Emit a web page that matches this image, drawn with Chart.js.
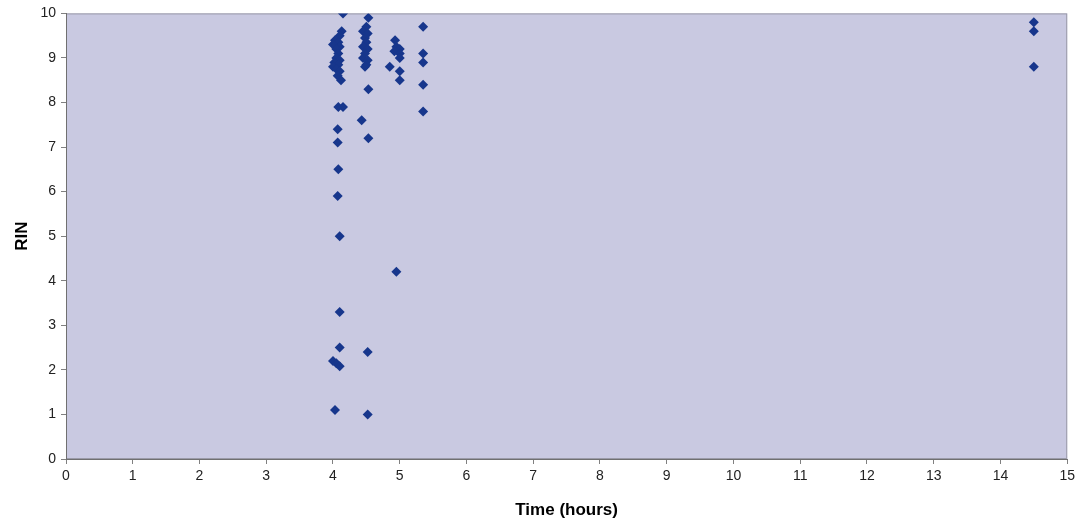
<!DOCTYPE html>
<html>
<head>
<meta charset="utf-8">
<script src="https://cdn.jsdelivr.net/npm/chart.js@4.4.1/dist/chart.umd.min.js"></script>
<style>
  html, body { margin: 0; padding: 0; background: #ffffff; }
  #wrap { width: 1079px; height: 526px; }
</style>
</head>
<body>
<div id="wrap"><canvas id="rinChart" width="1079" height="526"></canvas></div>
<script>
// RIN vs time samples
const timeHours = [
    4.15, 4.13, 4.10, 4.03, 4.08, 4.00, 4.10, 4.05, 4.08, 4.05, 4.10, 4.02, 4.08, 4.00, 4.05, 4.10, 4.07, 4.12,
    4.08, 4.15, 4.07, 4.07, 4.08, 4.07, 4.10, 4.10, 4.10, 4.00, 4.05, 4.10, 4.03,
    4.53, 4.50, 4.45, 4.52, 4.48, 4.50, 4.45, 4.52, 4.48, 4.45, 4.52, 4.50, 4.48, 4.53, 4.43, 4.53, 4.52, 4.52,
    4.93, 4.95, 5.00, 4.92, 5.00, 5.00, 4.85, 5.00, 5.00, 4.95,
    5.35, 5.35, 5.35, 5.35, 5.35,
    14.5, 14.5, 14.5
];
const rinValues = [
    10.0, 9.6, 9.5, 9.4, 9.35, 9.3, 9.25, 9.2, 9.1, 9.0, 8.95, 8.9, 8.85, 8.8, 8.75, 8.7, 8.6, 8.5,
    7.9, 7.9, 7.4, 7.1, 6.5, 5.9, 5.0, 3.3, 2.5, 2.2, 2.15, 2.08, 1.1,
    9.9, 9.7, 9.6, 9.55, 9.45, 9.35, 9.25, 9.2, 9.1, 9.0, 8.95, 8.85, 8.8, 8.3, 7.6, 7.2, 2.4, 1.0,
    9.4, 9.25, 9.2, 9.15, 9.1, 9.0, 8.8, 8.7, 8.5, 4.2,
    9.7, 9.1, 8.9, 8.4, 7.8,
    9.8, 9.6, 8.8
];
const xTicks = [0, 1, 2, 3, 4, 5, 6, 7, 8, 9, 10, 11, 12, 13, 14, 15];
const yTicks = [0, 1, 2, 3, 4, 5, 6, 7, 8, 9, 10];

const points = timeHours.map((t, i) => ({ x: t, y: rinValues[i] }));

// Fill the plot area lavender and draw the grey frame
const plotBackground = {
    id: 'plotBackground',
    beforeDraw(chart) {
        const { ctx, chartArea: a } = chart;
        ctx.save();
        ctx.fillStyle = '#c9c9e1';
        ctx.fillRect(a.left, a.top, a.right - a.left, a.bottom - a.top);
        ctx.strokeStyle = '#9a9aa8';
        ctx.lineWidth = 1;
        ctx.strokeRect(a.left + 0.5, a.top + 0.5, a.right - a.left - 1, a.bottom - a.top - 1);
        ctx.restore();
    }
};

new Chart(document.getElementById('rinChart'), {
    type: 'scatter',
    data: {
        datasets: [{
            label: 'RIN',
            data: points,
            pointStyle: 'rectRot',
            pointRadius: 5,
            pointBackgroundColor: '#17368c',
            pointBorderColor: '#17368c',
            pointBorderWidth: 0
        }]
    },
    plugins: [plotBackground],
    options: {
        responsive: false,
        animation: false,
        layout: { padding: { top: 10, right: 7, left: 0, bottom: 0 } },
        plugins: {
            legend: { display: false },
            tooltip: { enabled: false }
        },
        scales: {
            x: {
                type: 'linear',
                min: 0,
                max: 15,
                afterBuildTicks: function (axis) {
                    axis.ticks = xTicks.map(v => ({ value: v }));
                },
                afterFit: function (axis) { axis.height = 67; },
                grid: { drawOnChartArea: false, drawTicks: true, tickLength: 5, color: '#808080' },
                border: { color: '#707070' },
                ticks: {
                    padding: 4,
                    color: '#222222',
                    font: { family: 'Liberation Sans', size: 14 }
                },
                title: {
                    display: true,
                    text: 'Time (hours)',
                    color: '#000000',
                    padding: { top: 0, bottom: 5 },
                    font: { family: 'Liberation Sans', size: 17, weight: 'bold' }
                }
            },
            y: {
                type: 'linear',
                min: 0,
                max: 10,
                afterBuildTicks: function (axis) {
                    axis.ticks = yTicks.map(v => ({ value: v }));
                },
                afterFit: function (axis) { axis.width = 66; },
                grid: { drawOnChartArea: false, drawTicks: true, tickLength: 5, color: '#808080' },
                border: { color: '#707070' },
                ticks: {
                    padding: 5,
                    color: '#222222',
                    font: { family: 'Liberation Sans', size: 14 }
                },
                title: {
                    display: true,
                    text: 'RIN',
                    color: '#000000',
                    padding: { top: 12, bottom: 0 },
                    font: { family: 'Liberation Sans', size: 17, weight: 'bold' }
                }
            }
        }
    }
});
</script>
</body>
</html>
